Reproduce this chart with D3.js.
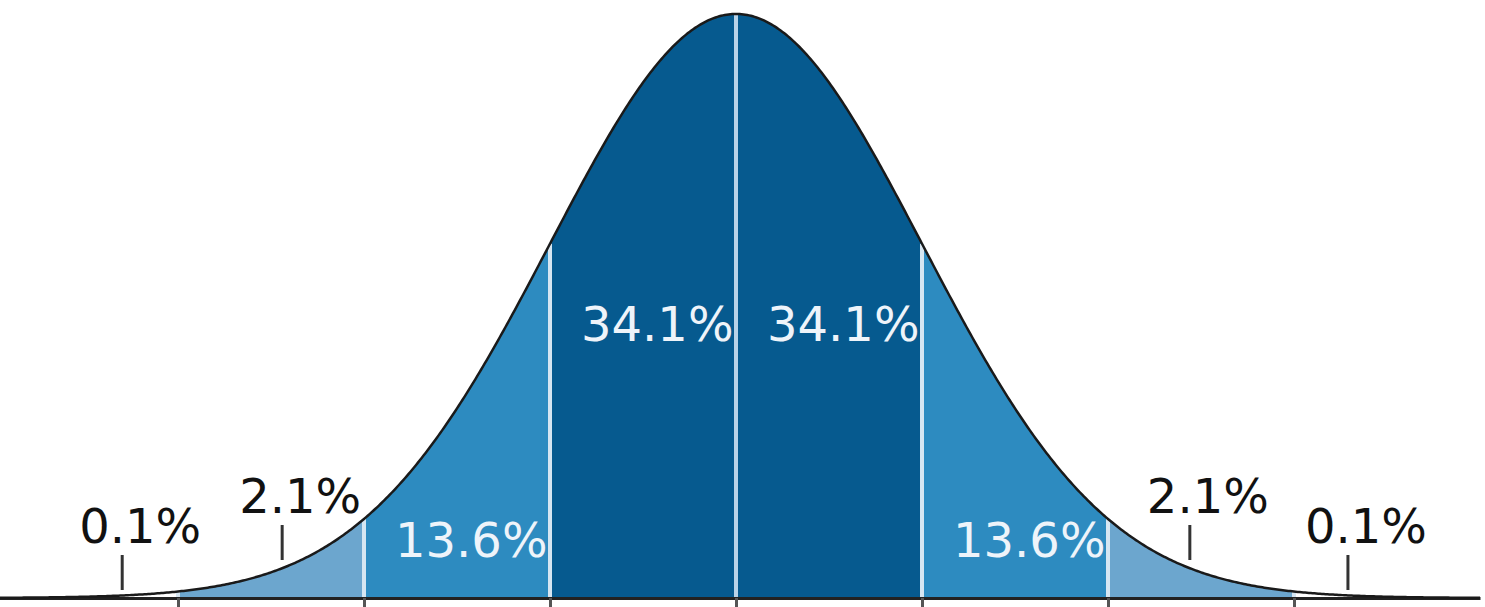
<!DOCTYPE html>
<html>
  <head>
    <meta charset="UTF-8" />
    <style>
      body {
        margin: 0;
        background: #fff;
      }
      svg {
        display: block;
      }
      .pct {
        font-family: "DejaVu Sans", sans-serif;
        font-size: 48px;
      }
    </style>
  </head>
  <body>
    <svg></svg>
    <script src="https://d3js.org/d3.v7.min.js"></script>
    <script>
      // sigma boundaries of the shaded bands
      const bandFrom = [-3, -2, -1, 0, 1, 2];
      const bandTo = [-2, -1, 0, 1, 2, 3];
      const bandLabels = ["2.1%", "13.6%", "34.1%", "34.1%", "13.6%", "2.1%"];
      const bandShade = ["light", "mid", "dark", "dark", "mid", "light"];

      // labels that sit outside the curve, with a small pointer
      const outerLabels = ["0.1%", "2.1%", "2.1%", "0.1%"];
      const outerAt = [-3.3, -2.44, 2.44, 3.29];

      const tickSigma = [-3, -2, -1, 0, 1, 2, 3];

      let width = 1485,
        height = 607;

      let svg = d3
        .select("svg")
        .attr("width", width)
        .attr("height", height);

      let x = d3.scaleLinear().domain([-4, 4]).range([-8, 1480]);
      let y = d3.scaleLinear().domain([0, 0.3989]).range([598, 14]);

      let pdf = (s) => Math.exp((-s * s) / 2) / Math.sqrt(2 * Math.PI);

      let shadeColor = { light: "#6ca6ce", mid: "#2d8bc0", dark: "#065a8f" };

      let area = d3
        .area()
        .x((s) => x(s))
        .y0(y(0))
        .y1((s) => y(pdf(s)));

      let samples = (a, b) => d3.range(a, b + 0.0001, 0.01);

      // shaded bands
      svg
        .append("g")
        .selectAll("path")
        .data(bandFrom)
        .enter()
        .append("path")
        .attr("d", (d, i) => area(samples(bandFrom[i], bandTo[i])))
        .attr("fill", (d, i) => shadeColor[bandShade[i]]);

      // band dividers
      svg
        .append("g")
        .selectAll("line")
        .data(tickSigma)
        .enter()
        .append("line")
        .attr("x1", (d) => x(d))
        .attr("x2", (d) => x(d))
        .attr("y1", y(0))
        .attr("y2", (d) => y(pdf(d)))
        .attr("stroke", (d) => (d == 0 ? "#b9d3e8" : "#d6e6f2"))
        .attr("stroke-width", 4);

      // axis
      let axis = d3
        .axisBottom(x)
        .tickValues(tickSigma)
        .tickFormat("")
        .tickSize(12)
        .tickSizeOuter(0);
      let ax = svg
        .append("g")
        .attr("transform", "translate(0," + y(0) + ")")
        .call(axis);
      ax.select(".domain").attr("stroke", "#222").attr("stroke-width", 3);
      ax.selectAll(".tick line").attr("stroke", "#555").attr("stroke-width", 3);

      // the curve
      svg
        .append("path")
        .attr(
          "d",
          d3
            .line()
            .x((s) => x(s))
            .y((s) => y(pdf(s)))(samples(-4, 4))
        )
        .attr("fill", "none")
        .attr("stroke", "#1a1a1a")
        .attr("stroke-width", 2.5);

      // band labels (light bands are labelled outside)
      bandLabels.forEach((d, i) => {
        if (bandShade[i] == "light") return;
        let yy = bandShade[i] == "dark" ? 341 : 557;
        svg
          .append("text")
          .attr("class", "pct")
          .attr("x", x(bandFrom[i]) + 31)
          .attr("y", yy)
          .attr("fill", "#eef4fa")
          .text(d);
      });

      // outer labels with pointers
      outerLabels.forEach((d, i) => {
        let s = outerAt[i];
        let top = Math.abs(s) > 3 ? 555 : 525;
        svg
          .append("line")
          .attr("x1", x(s))
          .attr("x2", x(s))
          .attr("y1", top)
          .attr("y2", top + 35)
          .attr("stroke", "#333")
          .attr("stroke-width", 3);
        svg
          .append("text")
          .attr("class", "pct")
          .attr("x", x(s) + 18)
          .attr("y", top - 12)
          .attr("text-anchor", "middle")
          .attr("fill", "#111")
          .text(d);
      });
    </script>
  </body>
</html>
